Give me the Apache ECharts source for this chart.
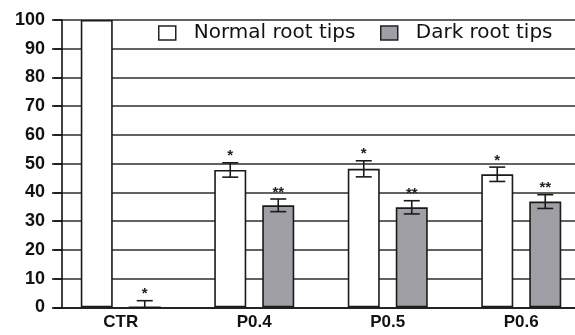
<!DOCTYPE html>
<html>
<head>
<meta charset="utf-8">
<script src="https://cdn.jsdelivr.net/npm/echarts@6/dist/echarts.min.js"></script>
<style>html,body{margin:0;padding:0;background:#fff;overflow:hidden}#c{width:588px;height:335px}</style>
</head>
<body>
<div id="c"></div>
<script>
var categories = ['CTR', 'P0.4', 'P0.5', 'P0.6'];
var normalValues = [100, 47.8, 48.2, 46.3];
var normalErrors = [0, 2.5, 2.8, 2.5];
var normalMarks = ['', '*', '*', '*'];
var darkValues = [0, 35.5, 34.8, 36.8];
var darkErrors = [2.3, 2.2, 2.3, 2.4];
var darkMarks = ['*', '**', '**', '**'];
var yTicks = [0, 10, 20, 30, 40, 50, 60, 70, 80, 90, 100];
var seriesNames = ['Normal root tips', 'Dark root tips'];

var BAR_W = 32, HALF_SPACING = 24;
var FILLS = ['#fff', '#a09fa6'];

function errSeries(name, values, errors, marks, sign) {
  var data = values.map(function (v, i) { return [i, v, errors[i], marks[i]]; });
  return {
    type: 'custom',
    name: name + '_err',
    z: 5,
    data: data,
    renderItem: function (params, api) {
      var i = api.value(0), v = api.value(1), e = api.value(2);
      var mark = data[params.dataIndex][3];
      var c = api.coord([i, v]);
      var x = c[0] + sign * HALF_SPACING;
      var top = api.coord([i, v + e])[1];
      var bot = api.coord([i, Math.max(0, v - e)])[1];
      var children = [];
      var ls = { stroke: '#1a1a1a', lineWidth: 1.6 };
      if (e > 0) {
        children.push({ type: 'line', shape: { x1: x, y1: top, x2: x, y2: bot }, style: ls });
        children.push({ type: 'line', shape: { x1: x - 8, y1: top, x2: x + 8, y2: top }, style: ls });
        if (v - e > 0) children.push({ type: 'line', shape: { x1: x - 8, y1: bot, x2: x + 8, y2: bot }, style: ls });
      }
      if (mark) {
        children.push({ type: 'text', style: { text: mark, x: x, y: top + 1, align: 'center', verticalAlign: 'bottom', fill: '#222', font: 'bold 15px "Liberation Sans", Arial, sans-serif' } });
      }
      return { type: 'group', children: children };
    }
  };
}

function legendFor(idx, left) {
  return {
    left: left, top: 23, padding: 0,
    itemWidth: 17, itemHeight: 14,
    icon: 'rect',
    textStyle: { fontFamily: 'DejaVu Sans', fontSize: 20, color: '#111', padding: [0, 0, 0, 13] },
    data: [{ name: seriesNames[idx], itemStyle: { color: FILLS[idx], borderColor: '#222', borderWidth: 1.5 } }]
  };
}

var chart = echarts.init(document.getElementById('c'), null, { renderer: 'canvas' });
chart.setOption({
  animation: false,
  backgroundColor: '#fff',
  grid: { left: 54, right: 0, top: 20, bottom: 27.7, containLabel: false },
  legend: [legendFor(0, 158), legendFor(1, 380)],
  xAxis: {
    type: 'category',
    data: categories,
    axisLine: { lineStyle: { color: '#111', width: 1.6 } },
    axisTick: { alignWithLabel: true, length: 6, lineStyle: { color: '#111', width: 1.6 } },
    axisLabel: { fontFamily: '"Liberation Sans", Arial, sans-serif', fontWeight: 'bold', fontSize: 17, color: '#111', margin: 7 }
  },
  yAxis: {
    type: 'value', min: 0, max: 100, interval: 10, offset: -8,
    axisLine: { show: true, lineStyle: { color: '#111', width: 1.6 } },
    axisTick: { show: true, length: 10, lineStyle: { color: '#111', width: 1.6 } },
    axisLabel: { fontFamily: '"Liberation Sans", Arial, sans-serif', fontWeight: 'bold', fontSize: 18, color: '#111', margin: 17,
      formatter: function (v) { return yTicks.indexOf(v) >= 0 ? String(v) : ''; } },
    splitLine: { show: true, lineStyle: { color: '#2e2e2e', width: 1.6 } }
  },
  series: [
    { type: 'bar', name: seriesNames[0], data: normalValues, barWidth: BAR_W, barGap: '50%',
      itemStyle: { color: FILLS[0], borderColor: '#1a1a1a', borderWidth: 1.6 } },
    { type: 'bar', name: seriesNames[1], data: darkValues, barWidth: BAR_W, barGap: '50%',
      itemStyle: { color: FILLS[1], borderColor: '#1a1a1a', borderWidth: 1.6 } },
    errSeries(seriesNames[0], normalValues, normalErrors, normalMarks, -1),
    errSeries(seriesNames[1], darkValues, darkErrors, darkMarks, 1)
  ]
});
</script>
</body>
</html>
